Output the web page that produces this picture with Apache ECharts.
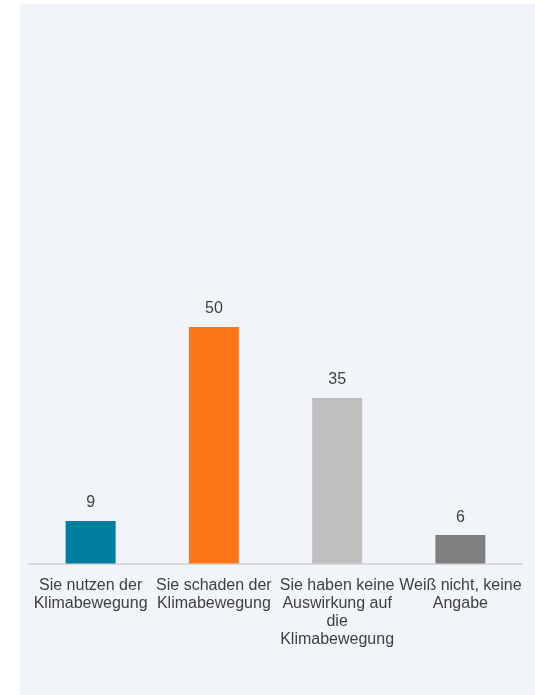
<!DOCTYPE html>
<html>
<head>
<meta charset="utf-8">
<script src="https://cdn.jsdelivr.net/npm/echarts@6/dist/echarts.min.js"></script>
<style>
  html, body { margin: 0; padding: 0; background: #ffffff; }
  #panel { position: absolute; left: 20px; top: 4px; width: 515px; height: 691px; background: #f1f5f9; }
  #chart { position: absolute; left: 0; top: 0; width: 535px; height: 695px; }
</style>
</head>
<body>
<div id="panel"></div>
<div id="chart"></div>
<script>
// categories and values
const categories = [
  'Sie nutzen der\nKlimabewegung',
  'Sie schaden der\nKlimabewegung',
  'Sie haben keine\nAuswirkung auf\ndie\nKlimabewegung',
  'Weiß nicht, keine\nAngabe'
];
const values = [9, 50, 35, 6];
const barColors = ['#007d9f', '#ff761a', '#bfbfbf', '#7f7f7f'];

const chart = echarts.init(document.getElementById('chart'));
const option = {
  backgroundColor: 'transparent',
  textStyle: { fontFamily: '"Liberation Sans", Arial, sans-serif' },
  grid: { left: 29, right: 13, top: 90.5, bottom: 131.5 },
  xAxis: {
    type: 'category',
    data: categories,
    axisLine: { lineStyle: { color: '#d9d9d9', width: 2 } },
    axisTick: { show: false },
    axisLabel: {
      interval: 0,
      margin: 13,
      fontSize: 16,
      lineHeight: 18,
      color: '#404040',
      fontFamily: '"Liberation Sans", Arial, sans-serif'
    }
  },
  yAxis: {
    type: 'value',
    min: 0,
    max: 100,
    show: false
  },
  series: [{
    type: 'bar',
    barWidth: 50,
    data: values.map((v, i) => ({ value: v, itemStyle: { color: barColors[i] } })),
    label: {
      show: true,
      position: 'top',
      distance: 10,
      fontSize: 16,
      color: '#404040',
      fontFamily: '"Liberation Sans", Arial, sans-serif'
    }
  }]
};
chart.setOption(option);
</script>
</body>
</html>
